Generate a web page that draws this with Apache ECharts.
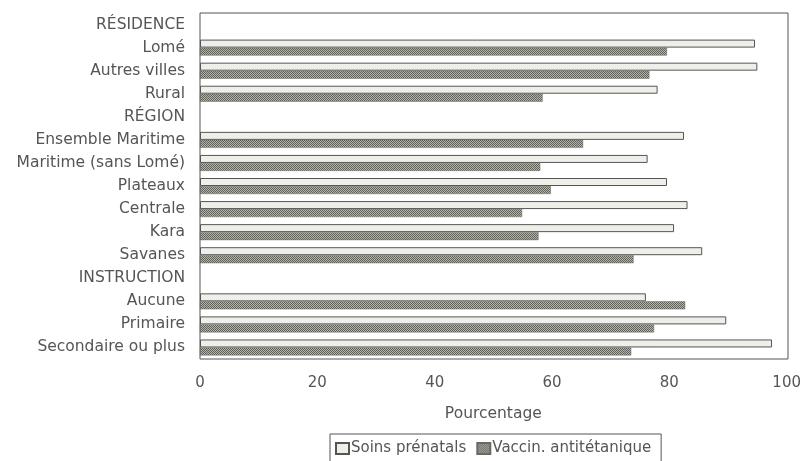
<!DOCTYPE html>
<html><head><meta charset="utf-8">
<script src="https://cdn.jsdelivr.net/npm/echarts@6/dist/echarts.min.js"></script>
<style>html,body{margin:0;padding:0;background:#fff}#c{width:804px;height:461px}</style>
</head><body><div id="c"></div>
<script>
const categories = ["RÉSIDENCE","Lomé","Autres villes","Rural","RÉGION","Ensemble Maritime","Maritime (sans Lomé)","Plateaux","Centrale","Kara","Savanes","INSTRUCTION","Aucune","Primaire","Secondaire ou plus"];
const soinsPrenatals = [null,94.6,95.0,78.0,null,82.5,76.3,79.6,83.1,80.8,85.6,null,76.0,89.7,97.5];
const vaccinAntitetanique = [null,79.6,76.6,58.4,null,65.3,58.0,59.8,54.9,57.7,73.9,null,82.7,77.4,73.5];
const xTicks = [0,20,40,60,80,100];

function makePattern(){
  const c = document.createElement('canvas');
  c.width = 2; c.height = 2;
  const g = c.getContext('2d');
  g.fillStyle = '#b4b4ac'; g.fillRect(0,0,2,2);
  g.fillStyle = '#62625b';
  g.fillRect(0,0,1,1); g.fillRect(1,1,1,1);
  return c;
}
const pat = {image: makePattern(), repeat: 'repeat'};
const FONT = 'DejaVu Sans, Liberation Sans, sans-serif';

const chart = echarts.init(document.getElementById('c'), null, {renderer:'canvas'});
chart.setOption({
  animation:false,
  backgroundColor:'#fff',
  textStyle:{fontFamily:FONT},
  grid:{left:200, top:13, width:588, height:346, containLabel:false},
  xAxis:{type:'value', min:0, max:100, interval:20,
    axisLine:{show:false}, axisTick:{show:false}, splitLine:{show:false},
    axisLabel:{color:'#555', fontSize:15, fontFamily:FONT, margin:17, formatter:v=>xTicks.includes(v)?String(v):''},
    name:'Pourcentage', nameLocation:'middle', nameGap:47,
    nameTextStyle:{color:'#555', fontSize:15.5, fontFamily:FONT}},
  yAxis:{type:'category', data:categories, inverse:true,
    axisLine:{show:false}, axisTick:{show:false}, splitLine:{show:false},
    axisLabel:{color:'#555', fontSize:15.5, fontFamily:FONT, margin:15}},
  legend:{top:434, left:330, itemWidth:13, itemHeight:11, itemGap:10, icon:'rect',
    borderColor:'#555', borderWidth:1, padding:[7,10,8,5], borderRadius:0,
    textStyle:{color:'#555', fontSize:15, fontFamily:FONT, padding:[0,0,0,-3]},
    data:['Soins prénatals','Vaccin. antitétanique']},
  graphic:[{type:'rect', shape:{x:200,y:13,width:588,height:346},
    style:{fill:'none', stroke:'#555', lineWidth:1}, silent:true, z:10}],
  series:[
    {name:'Soins prénatals', type:'bar', data:soinsPrenatals, barWidth:8, barGap:'0%',
      itemStyle:{color:'#efefea', borderColor:'#555', borderWidth:1}},
    {name:'Vaccin. antitétanique', type:'bar', data:vaccinAntitetanique, barWidth:8, barGap:'0%',
      itemStyle:{color:pat, borderColor:'#6a6a64', borderWidth:0.5}}
  ]
});
</script></body></html>
